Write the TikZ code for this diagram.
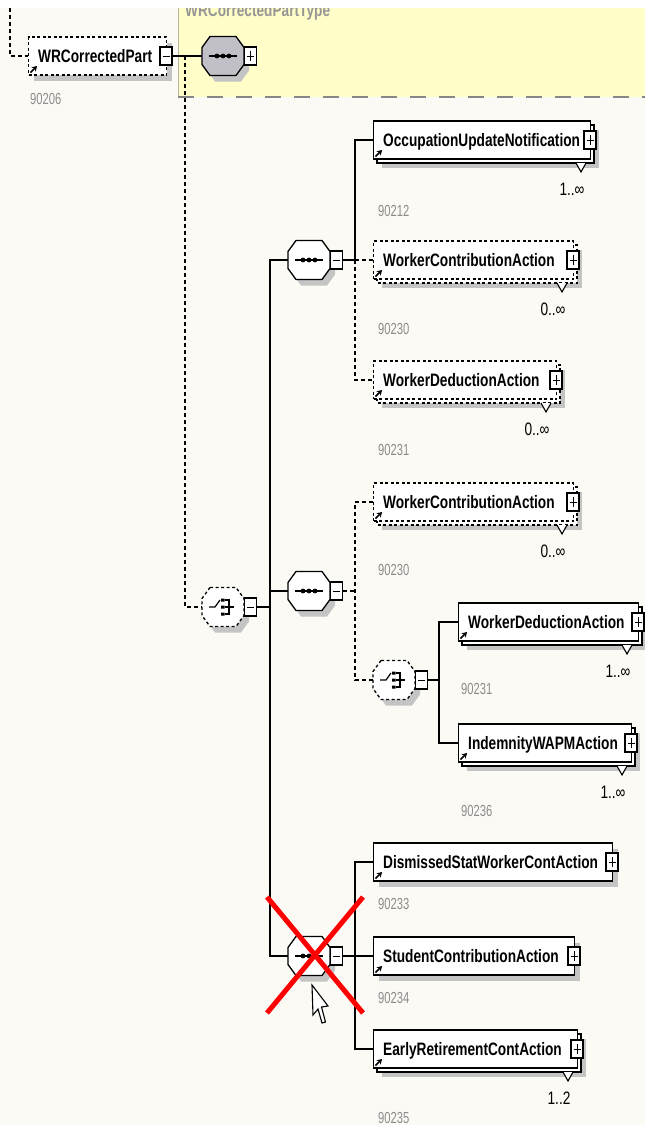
\documentclass[tikz,border=0pt]{standalone}
\usepackage{fontspec}
\setmainfont{Liberation Sans}
\newfontfamily\cfont{Liberation Sans}[FakeStretch=0.76]
\newfontfamily\mfont{Liberation Sans}[FakeStretch=0.76]
\newfontfamily\idfont{Liberation Sans}[FakeStretch=0.70]
\usetikzlibrary{arrows.meta}
\definecolor{bgc}{RGB}{252,250,245}
\definecolor{yel}{RGB}{255,253,200}
\definecolor{shd}{RGB}{196,196,196}
\definecolor{seqg}{RGB}{192,192,198}
\definecolor{idg}{RGB}{140,140,140}
\definecolor{ttl}{RGB}{150,150,150}
\definecolor{yline}{RGB}{180,180,165}
\tikzset{
  conn/.style={line width=1.3pt, black},
  dconn/.style={conn, dash pattern=on 4pt off 3pt},
  solidb/.style={},
  dashb/.style={dash pattern=on 3pt off 2.5pt},
  elbox/.style={draw, line width=1.3pt, fill=white, inner sep=0pt, minimum height=38pt, anchor=west},
  pmbox/.style={draw, line width=1.1pt, fill=white, inner sep=0pt, minimum width=12pt, minimum height=18pt},
  lbl/.style={anchor=base west, inner sep=0pt, font=\cfont\bfseries\fontsize{18}{20}\selectfont},
  multl/.style={anchor=base, inner sep=0pt, font=\mfont\fontsize{18}{20}\selectfont},
  idl/.style={anchor=base west, inner sep=0pt, text=idg, font=\idfont\fontsize{16}{18}\selectfont},
}
\newcommand{\PlusIn}[1]{\draw[line width=1pt] ([xshift=-3.5pt]#1.center) -- ([xshift=3.5pt]#1.center) ([yshift=-5pt]#1.center) -- ([yshift=5pt]#1.center);}
\newcommand{\MinusIn}[1]{\draw[line width=1pt] ([xshift=-3.5pt]#1.center) -- ([xshift=3.5pt]#1.center);}
% element box: name, x1, yc, x2, text, multi, border style, sign
\newcommand{\Elem}[8]{%
  \pgfmathsetmacro{\elYa}{#3-19}\pgfmathsetmacro{\elYb}{#3+19}\pgfmathsetmacro{\elW}{#4-#2}%
  \ifnum#6=1
    \fill[shd] (#2+9,\elYa+9) rectangle (#4+9,\elYb+9);
    \draw[line width=1.3pt,fill=white,#7] (#2+4,\elYa+4) rectangle (#4+4,\elYb+4);
  \else
    \fill[shd] (#2+6,\elYa+6) rectangle (#4+6,\elYb+6);
  \fi
  \node[elbox,#7,minimum width=\elW pt] (#1) at (#2,#3) {};
  \node[lbl] (#1t) at (#2+10,#3+6.5) {#5};
  \draw[line width=1.6pt,-{Stealth[length=5pt,width=6pt]}] (#2+2.5,\elYb-2.5) -- (#2+9,\elYb-9);
  \node[pmbox] (#1p) at (#4,#3) {};
  #8{#1p}
}
% multiplicity: name, x centre, box centre y, text
\newcommand{\Mult}[4]{%
  \draw[line width=1.1pt,fill=white] (#2+4,#3+23) -- (#2+9,#3+32) -- (#2+14,#3+23);
  \node[multl] (#1) at (#2,#3+55) {#4};
}
\newcommand{\IdL}[4]{\node[idl] (#1) at (#2,#3) {#4};}
\newcommand{\SeqSym}{%
  \draw[line width=1.3pt] (-14,0) -- (14,0);
  \fill (-6,0) circle (2.4) (0,0) circle (2.4) (6,0) circle (2.4);
}
\newcommand{\ChSym}{%
  \draw[line width=1.2pt] (-14,0) -- (-8,0) -- (-3,-7);
  \fill (-2,-8.5) rectangle (1.5,-5.5) (-2,-1.5) rectangle (1.5,1.5) (-2,5.5) rectangle (1.5,8.5);
  \draw[line width=1.2pt] (1.5,-7) -- (6,-7) -- (6,7) -- (1.5,7) (1.5,0) -- (11,0);
}
% compositor: name, cx, cy, fill, border, symbol, sign
\newcommand{\Comp}[7]{%
  \begin{scope}[shift={(#2,#3)}]
    \fill[shd] (-8,-13.5) -- (18,-13.5) -- (26,-2.5) -- (26,14.5) -- (18,25.5) -- (-8,25.5) -- (-16,14.5) -- (-16,-2.5) -- cycle;
    \draw[line width=1.3pt,fill=#4,#5] (-13,-19.5) -- (13,-19.5) -- (21,-8.5) -- (21,8.5) -- (13,19.5) -- (-13,19.5) -- (-21,8.5) -- (-21,-8.5) -- cycle;
    #6
  \end{scope}
  \node[inner sep=0pt,outer sep=0pt,minimum width=42pt,minimum height=39pt] (#1) at (#2,#3) {};
  \node[pmbox,anchor=west] (#1m) at (#1.east) {};
  #7{#1m}
}
\begin{document}
\begin{tikzpicture}[x=1pt,y=-1pt]
\useasboundingbox (0,0) rectangle (645,1125);
\clip (0,0) rectangle (645,1125);
% background
\fill[white] (0,0) rectangle (645,8);
\fill[bgc] (0,8) rectangle (645,1125);
\fill[yel] (178,8) rectangle (645,97);
\draw[yline,line width=1pt] (178,8) -- (178,97);
\draw[ttl!90!black,line width=2.5pt,dash pattern=on 16pt off 13pt] (178,97) -- (645,97);
\begin{scope}
  \clip (178,8) rectangle (645,97);
  \node[lbl,text=ttl] (title) at (185,16) {WRCorrectedPartType};
\end{scope}

% element boxes
\Elem{wrc}{28}{56}{166}{WRCorrectedPart}{0}{dashb}{\MinusIn}
\Elem{oun}{373}{140}{590}{OccupationUpdateNotification}{1}{solidb}{\PlusIn}
\Elem{wca}{373}{260}{573}{WorkerContributionAction}{1}{dashb}{\PlusIn}
\Elem{wda}{373}{380}{556}{WorkerDeductionAction}{1}{dashb}{\PlusIn}
\Elem{wcb}{373}{502}{573}{WorkerContributionAction}{1}{dashb}{\PlusIn}
\Elem{wdb}{458}{622}{638}{WorkerDeductionAction}{1}{solidb}{\PlusIn}
\Elem{iwa}{458}{743}{631}{IndemnityWAPMAction}{1}{solidb}{\PlusIn}
\Elem{dsw}{373}{862}{612}{DismissedStatWorkerContAction}{0}{solidb}{\PlusIn}
\Elem{sca}{373}{956}{574}{StudentContributionAction}{0}{solidb}{\PlusIn}
\Elem{erc}{373}{1049}{577}{EarlyRetirementContAction}{1}{solidb}{\PlusIn}

% multiplicities
\Mult{moun}{572}{140}{1..∞}
\Mult{mwca}{553}{260}{0..∞}
\Mult{mwda}{537}{380}{0..∞}
\Mult{mwcb}{553}{502}{0..∞}
\Mult{mwdb}{618}{622}{1..∞}
\Mult{miwa}{613}{743}{1..∞}
\Mult{merc}{559}{1049}{1..2}

% ids
\IdL{i0}{30}{104}{90206}
\IdL{i1}{378}{216}{90212}
\IdL{i2}{378}{334}{90230}
\IdL{i3}{378}{455}{90231}
\IdL{i4}{378}{575}{90230}
\IdL{i5}{461}{694}{90231}
\IdL{i6}{461}{816}{90236}
\IdL{i7}{378}{909}{90233}
\IdL{i8}{378}{1003}{90234}
\IdL{i9}{378}{1123}{90235}

% compositors
\Comp{sq0}{223}{56}{seqg}{solidb}{\SeqSym}{\PlusIn}
\Comp{ch1}{223}{607}{white}{dashb}{\ChSym}{\MinusIn}
\Comp{sq1}{309}{260}{white}{solidb}{\SeqSym}{\MinusIn}
\Comp{sq2}{309}{591}{white}{solidb}{\SeqSym}{\MinusIn}
\Comp{ch2}{394}{680}{white}{dashb}{\ChSym}{\MinusIn}
\Comp{sq3}{309}{956}{white}{solidb}{\SeqSym}{\MinusIn}

% connectors
\coordinate (in0) at (10,8);
\draw[dconn] (in0) |- (wrc.west);
\draw[conn] (wrcp.east) -- (sq0.west);
\coordinate (j0) at (185,56);
\draw[dconn] (j0) |- (ch1.west);
\coordinate (trk) at (270,607);
\draw[conn] (ch1m.east) -- (trk);
\draw[conn] (sq1.west) -| (trk) |- (sq3.west);
\draw[conn] (sq2.west) -- (sq2.west -| trk);
\coordinate (b1) at (355,260);
\draw[conn] (sq1m.east) -- (b1) |- (oun.west);
\draw[dconn] (b1) -- (wca.west);
\draw[dconn] (b1) |- (wda.west);
\coordinate (b2) at (355,591);
\draw[dconn] (sq2m.east) -- (b2);
\draw[dconn] (wcb.west) -| (b2) |- (ch2.west);
\coordinate (b3) at (439,680);
\draw[conn] (ch2m.east) -- (b3);
\draw[conn] (wdb.west) -| (b3) |- (iwa.west);
\coordinate (b4) at (355,956);
\draw[conn] (sq3m.east) -- (b4);
\draw[conn] (dsw.west) -| (b4) |- (erc.west);
\draw[conn] (b4) -- (sca.west);

% red cross
\draw[red,line width=5pt] (267,897) -- (363,1013) (363,897) -- (267,1013);
% mouse pointer
\draw[line width=1.1pt,fill=white,line join=miter] (312,985) -- (313,1015) -- (318,1009) -- (322,1023) -- (325.5,1022) -- (321.5,1007) -- (328,1006) -- cycle;
\end{tikzpicture}
\end{document}
